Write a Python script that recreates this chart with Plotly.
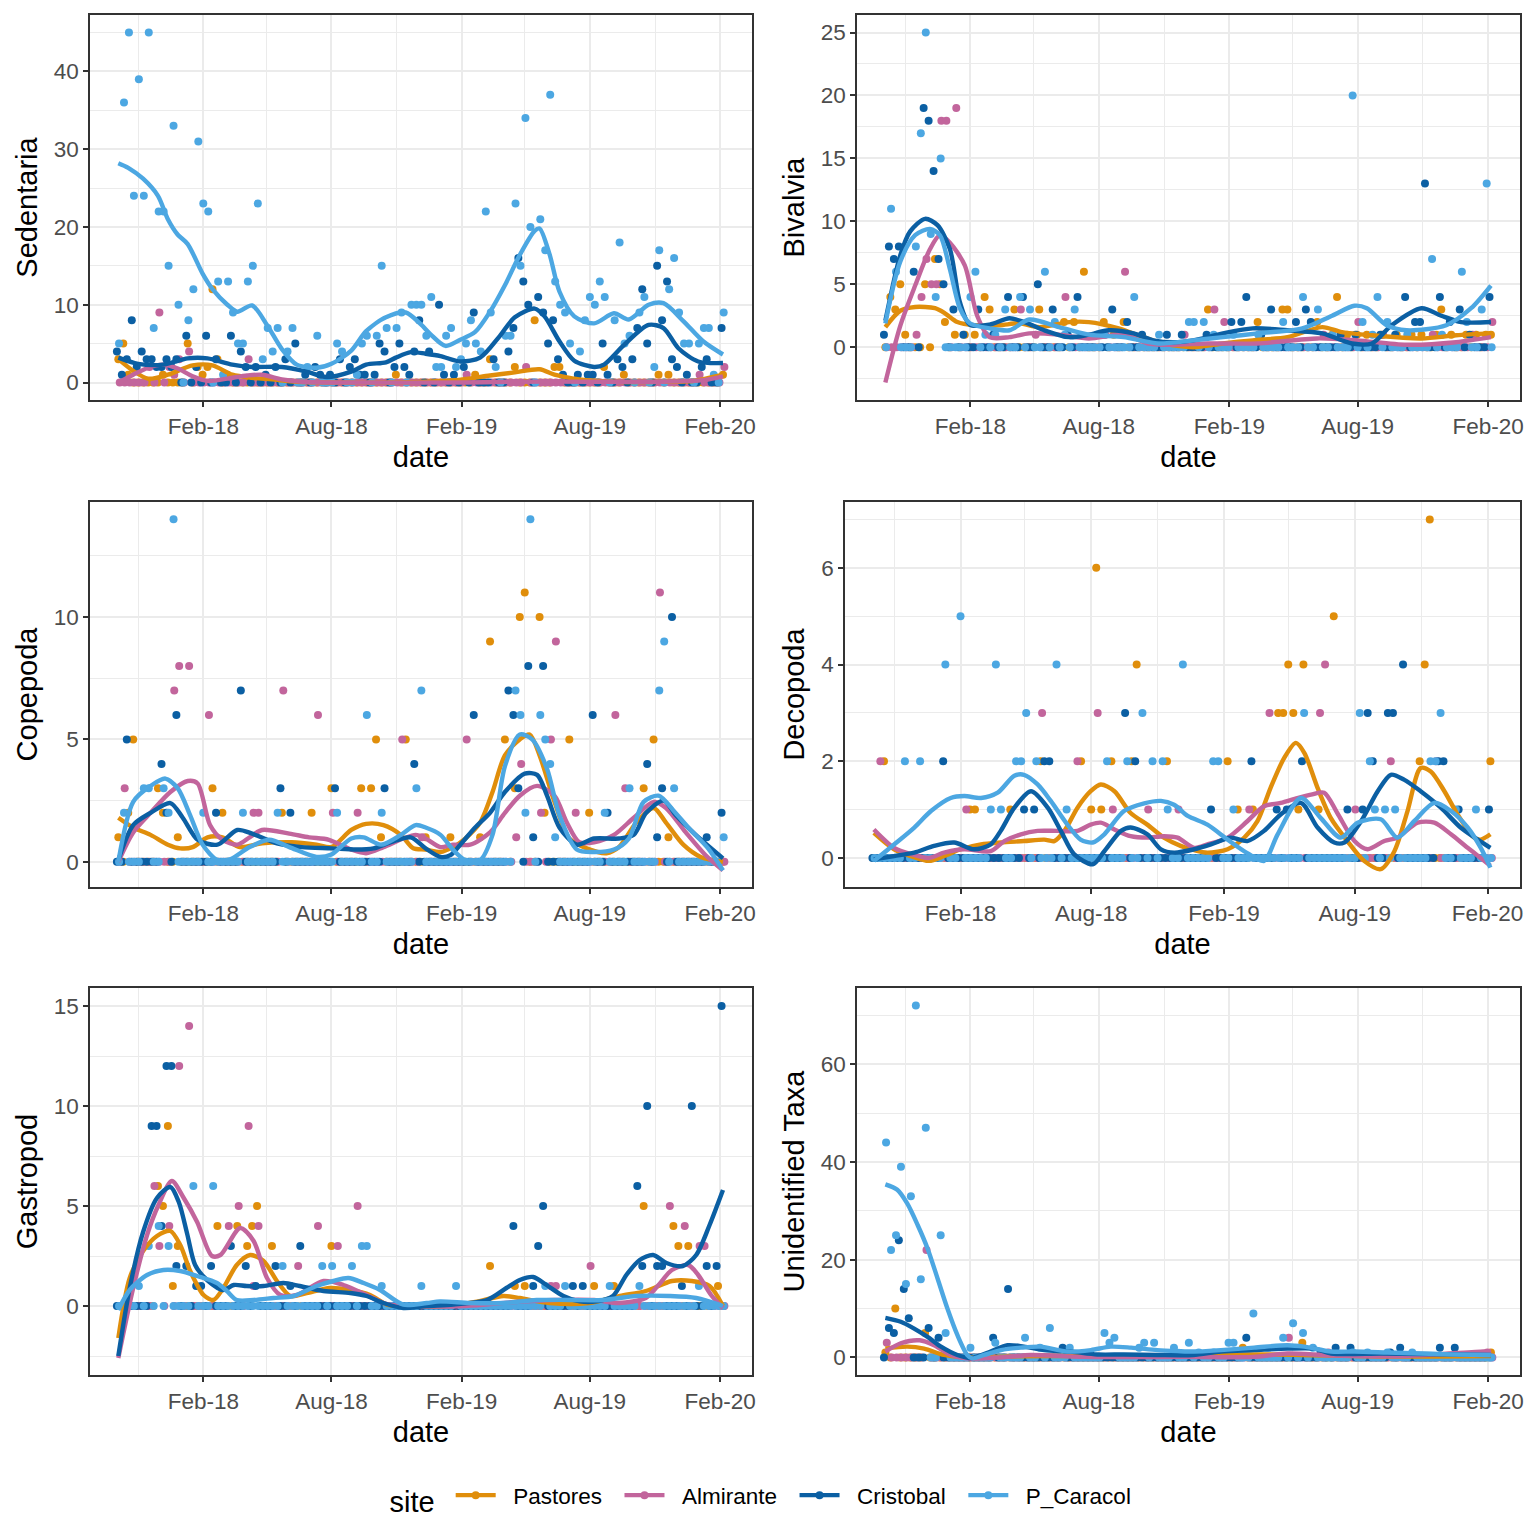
import pandas as pd
import plotly.graph_objects as go

# ---------------- sampling calendar (weekly) ----------------
DATES = [
    "2017-10-04", "2017-10-11", "2017-10-18", "2017-10-25", "2017-11-01", "2017-11-08", "2017-11-15",
    "2017-11-22", "2017-11-29", "2017-12-06", "2017-12-13", "2017-12-20", "2017-12-27",
    "2018-01-03", "2018-01-10", "2018-01-17", "2018-01-24", "2018-01-31",
    "2018-02-07", "2018-02-14", "2018-02-21", "2018-02-28",
    "2018-03-07", "2018-03-14", "2018-03-21", "2018-03-28",
    "2018-04-04", "2018-04-11", "2018-04-18", "2018-04-25",
    "2018-05-02", "2018-05-09", "2018-05-16", "2018-05-23", "2018-05-30",
    "2018-06-06", "2018-06-13", "2018-06-20", "2018-06-27",
    "2018-07-04", "2018-07-11", "2018-07-18", "2018-07-25",
    "2018-08-01", "2018-08-08", "2018-08-15", "2018-08-22", "2018-08-29",
    "2018-09-05", "2018-09-12", "2018-09-19", "2018-09-26",
    "2018-10-03", "2018-10-10", "2018-10-17", "2018-10-24", "2018-10-31",
    "2018-11-07", "2018-11-14", "2018-11-21", "2018-11-28",
    "2018-12-05", "2018-12-12", "2018-12-19", "2018-12-26",
    "2019-01-02", "2019-01-09", "2019-01-16", "2019-01-23", "2019-01-30",
    "2019-02-06", "2019-02-13", "2019-02-20", "2019-02-27",
    "2019-03-06", "2019-03-13", "2019-03-20", "2019-03-27",
    "2019-04-03", "2019-04-10", "2019-04-17", "2019-04-24",
    "2019-05-01", "2019-05-08", "2019-05-15", "2019-05-22", "2019-05-29",
    "2019-06-05", "2019-06-12", "2019-06-19", "2019-06-26",
    "2019-07-03", "2019-07-10", "2019-07-17", "2019-07-24", "2019-07-31",
    "2019-08-07", "2019-08-14", "2019-08-21", "2019-08-28",
    "2019-09-04", "2019-09-11", "2019-09-18", "2019-09-25",
    "2019-10-02", "2019-10-09", "2019-10-16", "2019-10-23", "2019-10-30",
    "2019-11-06", "2019-11-13", "2019-11-20", "2019-11-27",
    "2019-12-04", "2019-12-11", "2019-12-18", "2019-12-25",
    "2020-01-01", "2020-01-08", "2020-01-15", "2020-01-22", "2020-01-29",
    "2020-02-05",
]

SITES = ["Pastores", "Almirante", "Cristobal", "P_Caracol"]
SITE_SAMPLING_LAG_DAYS = {"Pastores": 0, "Almirante": 2, "Cristobal": -2, "P_Caracol": 1}

# ---------------- counts: {week index into DATES: count}, unlisted weeks = 0 ----------------
SED_PASTORES = {0: 3, 1: 5, 2: 1, 9: 1, 14: 5, 16: 2, 17: 1, 18: 2, 19: 12, 20: 3, 22: 1, 56: 1, 72: 1,
                75: 3, 80: 2, 84: 8, 88: 2, 89: 2, 98: 2, 102: 1, 109: 1, 111: 1, 122: 1}
SED_ALMIRANTE = {6: 2, 8: 9, 10: 2, 11: 1, 12: 3, 14: 4, 26: 3, 70: 1, 82: 2, 117: 1, 122: 2}
SED_CRISTOBAL = {0: 4, 1: 1, 2: 3, 3: 8, 4: 2, 5: 4, 6: 3, 7: 3, 8: 2, 9: 2, 10: 3, 11: 2, 12: 3, 14: 6,
                 16: 2, 18: 6, 20: 3, 23: 6, 25: 4, 26: 2, 28: 2, 30: 1, 32: 2, 34: 3, 36: 5, 38: 1,
                 40: 2, 41: 1, 43: 1, 45: 3, 47: 2, 48: 3, 49: 1, 50: 1, 52: 1, 53: 5, 54: 4, 56: 2,
                 57: 5, 58: 2, 59: 1, 60: 4, 61: 8, 63: 4, 65: 10, 66: 1, 68: 1, 70: 2, 72: 9, 76: 3,
                 79: 4, 80: 7, 81: 16, 82: 13, 83: 10, 85: 11, 86: 9, 87: 5, 88: 8, 89: 3, 90: 1,
                 93: 1, 95: 1, 96: 1, 98: 5, 99: 1, 101: 3, 102: 2, 104: 3, 105: 7, 106: 12, 107: 5,
                 109: 15, 110: 8, 111: 13, 112: 3, 113: 2, 115: 1, 118: 2, 119: 3, 122: 7}
SED_P_CARACOL = {0: 5, 1: 36, 2: 45, 3: 24, 4: 39, 5: 24, 6: 45, 7: 7, 8: 22, 9: 22, 10: 15, 11: 33,
                 12: 10, 14: 8, 15: 12, 16: 31, 17: 23, 18: 22, 20: 13, 21: 1, 22: 13, 23: 9, 24: 5,
                 25: 5, 26: 13, 27: 15, 28: 23, 29: 3, 30: 7, 31: 4, 32: 7, 34: 4, 35: 7, 38: 2,
                 40: 6, 44: 5, 45: 4, 48: 1, 49: 5, 50: 6, 52: 6, 53: 15, 54: 7, 56: 7, 57: 9,
                 59: 10, 60: 10, 61: 10, 62: 6, 63: 11, 64: 2, 65: 2, 66: 6, 67: 7, 68: 2, 69: 3,
                 70: 5, 71: 8, 72: 5, 73: 4, 74: 22, 75: 9, 76: 2, 78: 6, 79: 6, 80: 23, 81: 15,
                 82: 34, 83: 20, 85: 21, 86: 17, 87: 37, 88: 13, 89: 10, 90: 9, 91: 5, 93: 4, 94: 8,
                 95: 11, 96: 10, 97: 13, 98: 11, 100: 8, 101: 18, 102: 5, 103: 6, 105: 9, 106: 11,
                 108: 2, 109: 17, 111: 12, 112: 16, 113: 9, 114: 5, 115: 5, 117: 5, 118: 7, 119: 7,
                 120: 1, 122: 9}

BIV_PASTORES = {1: 4, 2: 3, 3: 5, 4: 1, 8: 5, 10: 7, 11: 5, 12: 2, 14: 1, 16: 1, 18: 1, 20: 4, 21: 3,
                26: 3, 31: 3, 36: 2, 38: 2, 40: 6, 44: 2, 46: 1, 48: 2, 65: 3, 75: 2, 80: 3, 81: 3,
                87: 2, 90: 1, 91: 4, 93: 1, 95: 1, 97: 1, 100: 1, 103: 1, 106: 1, 108: 1, 111: 1,
                112: 3, 114: 1, 117: 1, 119: 1, 121: 1, 122: 1}
BIV_ALMIRANTE = {6: 1, 7: 4, 8: 7, 9: 5, 10: 5, 11: 18, 12: 18, 14: 19, 27: 3, 30: 1, 36: 4, 44: 1,
                 48: 6, 60: 1, 66: 3, 68: 2, 75: 1, 88: 1, 95: 2, 100: 1, 110: 1, 118: 1, 122: 2}
BIV_CRISTOBAL = {0: 1, 1: 8, 2: 7, 3: 8, 6: 6, 8: 19, 9: 18, 10: 14, 11: 7, 12: 5, 14: 3, 16: 1, 19: 3,
                 22: 1, 25: 4, 28: 4, 31: 5, 34: 3, 37: 1, 39: 4, 43: 1, 46: 3, 49: 2, 52: 1, 57: 1,
                 60: 1, 65: 1, 70: 2, 72: 2, 73: 4, 76: 1, 78: 3, 83: 2, 85: 3, 86: 2, 92: 1, 95: 1,
                 100: 1, 103: 1, 105: 4, 107: 2, 108: 2, 109: 13, 112: 4, 114: 2, 116: 3, 118: 1,
                 122: 4}
BIV_P_CARACOL = {1: 11, 2: 6, 6: 8, 7: 17, 8: 25, 9: 9, 10: 4, 11: 15, 17: 4, 18: 6, 20: 1, 22: 1,
                 24: 3, 27: 4, 29: 3, 32: 6, 34: 2, 36: 1, 38: 3, 44: 1, 50: 4, 55: 1, 61: 2, 62: 2,
                 64: 2, 66: 1, 70: 1, 75: 1, 80: 2, 84: 4, 87: 3, 90: 1, 94: 20, 96: 2, 98: 1, 99: 4,
                 101: 2, 105: 1, 110: 7, 112: 1, 116: 6, 117: 2, 120: 3, 121: 13}

COP_PASTORES = {0: 1, 2: 2, 3: 5, 8: 3, 9: 2, 12: 1, 19: 3, 21: 2, 33: 2, 39: 2, 43: 3, 49: 3, 51: 3,
                52: 5, 53: 1, 58: 5, 62: 1, 67: 1, 73: 1, 75: 9, 78: 5, 80: 3, 81: 10, 82: 11, 85: 10,
                86: 2, 91: 5, 95: 2, 106: 3, 108: 5, 111: 1}
COP_ALMIRANTE = {1: 3, 11: 7, 12: 8, 14: 8, 18: 6, 27: 2, 28: 2, 33: 7, 40: 6, 43: 2, 48: 2, 57: 5,
                 61: 1, 70: 5, 80: 1, 81: 4, 85: 2, 87: 5, 88: 9, 92: 2, 100: 6, 102: 3, 109: 11}
COP_CRISTOBAL = {2: 5, 9: 4, 10: 2, 12: 6, 20: 2, 25: 7, 33: 3, 35: 2, 44: 3, 54: 3, 60: 4, 72: 6,
                 79: 7, 80: 6, 81: 3, 83: 8, 84: 1, 86: 8, 96: 6, 99: 2, 107: 4, 109: 1, 110: 3,
                 112: 10, 119: 1, 122: 2}
COP_P_CARACOL = {1: 2, 5: 3, 6: 3, 9: 3, 10: 2, 11: 14, 17: 2, 25: 2, 32: 2, 44: 2, 50: 6, 53: 2,
                 60: 3, 61: 7, 80: 7, 81: 6, 82: 2, 83: 14, 85: 6, 86: 5, 87: 4, 88: 1, 98: 2, 103: 3,
                 109: 7, 110: 9, 112: 3, 122: 1}

DEC_PASTORES = {2: 2, 19: 1, 20: 1, 27: 1, 33: 2, 41: 2, 43: 1, 44: 6, 45: 1, 47: 2, 51: 2, 52: 4,
                58: 2, 70: 2, 72: 1, 75: 1, 80: 3, 81: 3, 82: 4, 83: 3, 84: 1, 85: 4, 88: 1, 91: 5,
                108: 2, 109: 4, 110: 7, 122: 2}
DEC_ALMIRANTE = {1: 2, 18: 1, 33: 3, 40: 2, 44: 3, 47: 1, 54: 1, 60: 1, 74: 1, 78: 3, 88: 3, 89: 4,
                 95: 1, 102: 2, 111: 2}
DEC_CRISTOBAL = {14: 2, 30: 1, 32: 1, 34: 2, 35: 2, 50: 3, 52: 2, 67: 1, 75: 2, 80: 1, 82: 1, 85: 2,
                 94: 1, 97: 1, 98: 3, 99: 2, 102: 3, 103: 3, 105: 4, 112: 2, 113: 2, 116: 1, 122: 1}
DEC_P_CARACOL = {6: 2, 9: 2, 14: 4, 17: 5, 23: 1, 24: 4, 25: 1, 28: 2, 29: 2, 30: 3, 32: 2, 36: 4,
                 38: 1, 46: 2, 50: 2, 53: 3, 55: 2, 57: 2, 58: 1, 61: 4, 67: 2, 68: 2, 71: 1, 85: 3,
                 96: 3, 98: 2, 99: 1, 101: 1, 103: 1, 110: 2, 111: 2, 112: 3, 115: 1, 119: 1}

GAS_PASTORES = {8: 6, 9: 5, 10: 9, 11: 1, 12: 3, 20: 4, 24: 4, 26: 3, 27: 4, 28: 5, 31: 3, 43: 3,
                75: 2, 80: 1, 82: 1, 96: 1, 100: 1, 106: 5, 112: 4, 113: 3, 115: 3, 121: 1}
GAS_ALMIRANTE = {7: 6, 8: 3, 10: 4, 12: 12, 14: 14, 22: 4, 24: 5, 26: 9, 27: 1, 28: 4, 36: 2, 40: 4,
                 44: 3, 48: 5, 87: 1, 88: 1, 95: 2, 111: 5, 114: 4, 117: 3, 118: 3}
GAS_CRISTOBAL = {7: 9, 8: 9, 9: 4, 10: 12, 11: 12, 12: 2, 14: 2, 16: 1, 17: 1, 19: 2, 23: 3, 26: 2,
                 28: 1, 32: 2, 35: 1, 37: 3, 80: 4, 84: 1, 85: 3, 86: 5, 92: 1, 94: 1, 105: 6,
                 106: 2, 107: 10, 109: 2, 110: 2, 114: 1, 116: 10, 119: 2, 121: 2, 122: 15}
GAS_P_CARACOL = {4: 1, 6: 3, 8: 4, 10: 3, 15: 6, 19: 6, 33: 2, 41: 2, 43: 2, 47: 2, 49: 3, 50: 3,
                 53: 1, 61: 1, 68: 1, 86: 1, 90: 1, 99: 1, 105: 1, 117: 1}

UNI_PASTORES = {0: 1, 2: 10, 8: 5, 72: 2, 84: 3, 122: 1}
UNI_ALMIRANTE = {0: 3, 8: 22, 81: 4, 89: 1, 121: 1}
UNI_CRISTOBAL = {1: 6, 2: 5, 3: 24, 4: 14, 5: 8, 9: 6, 11: 4, 22: 4, 25: 14, 36: 2, 73: 4, 88: 1,
                 91: 2, 94: 2, 102: 1, 104: 2, 112: 2, 115: 2}
UNI_P_CARACOL = {0: 44, 1: 22, 2: 25, 3: 39, 4: 15, 5: 33, 6: 72, 7: 16, 8: 47, 11: 25, 12: 5, 17: 2,
                 22: 3, 28: 4, 31: 2, 33: 6, 37: 2, 44: 5, 45: 3, 46: 4, 51: 2, 52: 3, 54: 3, 58: 2,
                 61: 3, 63: 1, 66: 1, 69: 3, 70: 3, 74: 9, 80: 4, 82: 7, 84: 5, 86: 2, 94: 1, 97: 1,
                 101: 1, 106: 1}

# ---------------- smoothed trends: (weeks since first sampling date, fitted value) ----------------
SED_FIT = {
    "Pastores": [(0, 3.0), (3, 1.5), (6, 0.5), (10, 1.0), (15, 2.2), (19, 2.2), (23, 1.0), (27, 0.6),
                 (31, 0.4), (36, 0.1), (45, 0), (55, 0), (62, 0.1), (68, 0.3), (75, 0.9), (80, 1.3),
                 (85, 1.7), (88, 1.0), (93, 0.4), (100, 0.1), (110, 0.1), (116, 0.2), (122, 1.0)],
    "Almirante": [(0, 0), (3, 1.0), (6, 1.9), (9, 2.3), (12, 1.8), (15, 0.8), (18, 0.2), (22, 0.5),
                  (26, 0.9), (29, 1.0), (33, 0.4), (37, 0.1), (45, 0), (70, 0), (80, 0.1), (95, 0.1),
                  (110, 0.1), (118, 0.3), (122, 0.8)],
    "Cristobal": [(0, 3.2), (4, 2.4), (9, 2.3), (14, 3.1), (18, 3.1), (23, 2.3), (27, 2.0), (33, 2.0),
                  (38, 1.4), (42, 0.7), (47, 1.4), (50, 2.3), (54, 2.6), (56, 3.2), (59, 3.9),
                  (62, 3.7), (65, 3.4), (69, 2.7), (73, 3.2), (77, 6.0), (80, 8.4), (84, 9.5),
                  (86, 8.5), (89, 5.3), (92, 2.8), (96, 2.0), (98, 2.3), (102, 4.8), (107, 7.4),
                  (110, 7.0), (113, 4.4), (117, 2.7), (122, 2.5)],
    "P_Caracol": [(0, 28.2), (2, 27.6), (5, 26.2), (8, 24.0), (10, 21.0), (12, 19.0), (14, 17.8),
                  (17, 14.0), (19, 12.0), (22, 10.0), (24, 9.1), (27, 9.9), (30, 7.4), (33, 4.3),
                  (36, 2.3), (40, 1.9), (43, 2.4), (47, 4.1), (50, 6.6), (54, 8.4), (58, 9.0),
                  (61, 7.5), (63, 6.2), (66, 4.7), (69, 5.5), (72, 6.5), (75, 9.1), (78, 12.5),
                  (81, 16.4), (84, 19.5), (85, 19.8), (87, 16.5), (89, 11.7), (92, 8.5), (96, 7.6),
                  (100, 8.9), (103, 8.1), (107, 10.0), (110, 10.2), (114, 7.9), (118, 5.3), (122, 3.6)],
}
BIV_FIT = {
    "Pastores": [(0, 1.6), (3, 2.9), (6, 3.2), (10, 3.1), (12, 2.7), (14.5, 2.0), (18, 1.75), (23, 1.75),
                 (27, 1.9), (31, 1.6), (37, 2.0), (41, 2.0), (47, 1.5), (52, 0.8), (56, 0.3), (62, 0.0),
                 (68, 0.3), (74, 0.55), (81, 0.8), (88, 1.6), (92, 1.2), (98, 0.95), (108, 0.7),
                 (115, 0.95), (122, 1.1)],
    "Almirante": [(0, -2.8), (3, 1.7), (6, 4.9), (9, 7.8), (11, 8.9), (13, 8.3), (16, 6.5), (18.5, 2.5),
                  (21, 0.8), (25, 0.8), (29, 1.1), (35, 1.0), (41, 0.7), (48, 1.0), (53, 0.3), (58, 0.2),
                  (65, 0.3), (75, 0.3), (87, 0.7), (95, 0.55), (105, 0.2), (115, 0.4), (122, 0.8)],
    "Cristobal": [(0, 2.1), (3, 7.3), (5, 9.2), (8, 10.2), (10.5, 9.7), (13, 7.8), (15, 3.6), (17, 1.8),
                  (21, 1.8), (25, 2.3), (28, 2.0), (32, 1.35), (37, 0.8), (41, 1.0), (45, 1.35),
                  (50, 1.1), (54, 0.55), (58, 0.4), (62, 0.55), (68, 1.1), (74, 1.5), (81, 1.35),
                  (88, 1.1), (94, 0.3), (98, 0.3), (102, 1.75), (108, 3.1), (112, 2.5), (116, 2.0),
                  (122, 2.0)],
    "P_Caracol": [(0, 1.9), (3, 6.8), (6, 8.9), (9, 9.4), (11, 8.9), (13, 6.2), (15, 3.1), (17, 1.9),
                  (21, 1.5), (25, 1.35), (29, 2.2), (35, 1.6), (41, 1.0), (48, 0.8), (55, 0.3),
                  (62, 0.55), (68, 0.8), (75, 1.1), (84, 1.5), (90, 2.5), (94.5, 3.3), (97, 3.1),
                  (101, 1.75), (105, 1.35), (113, 1.75), (118, 3.1), (122, 4.9)],
}
COP_FIT = {
    "Pastores": [(0, 1.8), (3, 1.4), (6.5, 1.1), (10, 0.7), (12.5, 0.55), (15, 0.6), (18, 1.0), (21, 1.0),
                 (24.5, 0.6), (29, 0.75), (35, 0.8), (40, 0.7), (43, 0.6), (47, 1.3), (50, 1.55),
                 (53.5, 1.5), (57, 1.1), (59.5, 0.55), (62, 0.5), (65, 0.4), (67.5, 0.6), (70, 0.95),
                 (73, 1.6), (75.5, 2.85), (78, 4.35), (81, 5.0), (83, 5.2), (85, 4.35), (88, 2.45),
                 (91, 0.95), (94.5, 0.55), (98.5, 0.35), (101, 0.6), (104.5, 1.6), (108, 2.2),
                 (110.5, 1.6), (114, 0.7), (117.5, 0.2), (122, 0.0)],
    "Almirante": [(0, 0), (3, 1.2), (6.5, 2.0), (10.5, 2.85), (14, 3.3), (16, 3.2), (18.5, 1.5), (21, 0.9),
                  (24, 0.7), (26.5, 1.0), (29, 1.3), (34.5, 1.15), (38.5, 1.0), (42.5, 0.9), (47, 0.5),
                  (50, 0.35), (53.5, 0.6), (57.5, 0.95), (60, 1.1), (62, 0.95), (65, 0.6), (67.5, 0.7),
                  (71, 0.7), (75, 1.2), (78, 2.0), (81, 2.7), (84.5, 3.1), (88, 2.7), (90.5, 1.6),
                  (93, 0.8), (96, 0.8), (100, 1.1), (104, 1.8), (108, 2.45), (110.5, 2.2),
                  (114.5, 1.2), (118.5, 0.27), (122, -0.35)],
    "Cristobal": [(0, 0.07), (3, 1.5), (6.5, 2.0), (10.5, 2.4), (13, 1.8), (16, 0.9), (20, 0.7), (24, 1.3),
                  (27, 1.15), (32, 0.75), (37, 0.6), (43, 0.55), (48, 0.5), (51.5, 0.55), (55, 0.8),
                  (59, 1.0), (62, 0.55), (65, 0.2), (67, 0.27), (69, 0.7), (72, 1.4), (75, 2.0),
                  (78, 2.85), (82, 3.6), (84.5, 3.55), (86.5, 2.7), (89, 1.4), (92.5, 0.7), (96, 0.95),
                  (101, 0.95), (104, 1.1), (106.5, 2.0), (110, 2.5), (112.5, 1.9), (116.5, 1.1),
                  (122, 0.14)],
    "P_Caracol": [(0, 0), (3, 2.45), (6.5, 3.1), (9.5, 3.4), (12, 3.0), (14.5, 1.9), (17, 0.7), (20, 0.07),
                  (22.5, 0.1), (26.5, 0.6), (30.5, 0.9), (34.5, 0.6), (40, 0.2), (43, 0.3), (47, 0.95),
                  (49.5, 1.0), (53, 0.7), (57, 1.1), (60, 1.5), (62, 1.4), (65, 1.1), (67.5, 0.5),
                  (70, 0.07), (73, 0.07), (75.5, 1.1), (78, 3.9), (81, 5.2), (83.5, 5.0), (86.5, 3.8),
                  (89, 1.9), (92.5, 0.5), (96, 0.4), (100, 0.5), (103, 0.95), (106, 2.45), (109, 2.7),
                  (112, 2.1), (115, 1.4), (119, 0.55), (122, -0.35)],
}
DEC_FIT = {
    "Pastores": [(0, 0.52), (4, 0.18), (7.3, 0.04), (10.9, -0.06), (13.9, 0.04), (17.2, 0.18), (21.2, 0.28),
                 (25.1, 0.32), (29.7, 0.35), (33.7, 0.38), (35.7, 0.35), (37.7, 0.56), (40.3, 1.04),
                 (42.9, 1.38), (44.9, 1.52), (47.6, 1.38), (50.8, 0.93), (54.1, 0.69), (57.4, 0.42),
                 (60.7, 0.25), (63.4, 0.16), (66, 0.11), (70, 0.18), (73.3, 0.42), (75.9, 0.76),
                 (78.5, 1.45), (81.2, 2.07), (83.5, 2.38), (85.2, 2.17), (87.8, 1.45), (90.4, 0.83),
                 (93.7, 0.35), (97, -0.06), (100.3, -0.23), (103, 0.14), (105.6, 0.97), (108.2, 1.86),
                 (110.2, 1.79), (112.9, 1.38), (115.5, 0.9), (118.8, 0.42), (120.1, 0.38), (122, 0.49)],
    "Almirante": [(0, 0.59), (4, 0.21), (7.3, 0.08), (10.9, 0.0), (13.9, 0.11), (17.9, 0.18), (23.1, 0.14),
                  (25.8, 0.35), (29.1, 0.49), (32.4, 0.56), (36.3, 0.56), (40.3, 0.56), (42.9, 0.69),
                  (44.9, 0.73), (47.6, 0.59), (50.8, 0.45), (54.1, 0.42), (57.4, 0.45), (60.1, 0.42),
                  (63.4, 0.21), (66, 0.28), (70, 0.42), (73.9, 0.76), (77.2, 1.07), (80.5, 1.14),
                  (83.8, 1.24), (86.5, 1.31), (89.1, 1.35), (91.7, 0.93), (95.1, 0.35), (97.7, 0.18),
                  (101, 0.35), (103.6, 0.42), (107.6, 0.73), (110.9, 0.73), (114.2, 0.49),
                  (117.5, 0.21), (122, -0.16)],
    "Cristobal": [(0, -0.03), (4, 0.04), (8, 0.11), (11.9, 0.25), (15.9, 0.32), (19.8, 0.18), (23.1, 0.28),
                  (25.1, 0.56), (27.8, 1.04), (31.1, 1.38), (34.4, 1.04), (37, 0.56), (39.6, 0.08),
                  (43.3, -0.13), (45.6, 0.14), (48.9, 0.56), (50.8, 0.63), (54.1, 0.49), (56.8, 0.18),
                  (59.4, 0.11), (63.4, 0.18), (66.7, 0.28), (70.6, 0.42), (73.9, 0.35), (77.2, 0.56),
                  (80.5, 0.9), (84.5, 1.14), (87.8, 0.63), (91.1, 0.32), (93.1, 0.32), (96.4, 0.76),
                  (99.7, 1.38), (102.3, 1.72), (104.9, 1.62), (108.2, 1.38), (112.2, 1.04),
                  (116.1, 0.63), (119.5, 0.38), (122, 0.21)],
    "P_Caracol": [(0, -0.06), (4, 0.28), (8, 0.63), (11.3, 0.97), (15.2, 1.24), (17.9, 1.28), (21.2, 1.24),
                  (24.5, 1.35), (27.8, 1.7), (29.7, 1.72), (32.4, 1.52), (35, 1.18), (38.3, 0.69),
                  (40.9, 0.38), (43.3, 0.32), (45.6, 0.49), (49.5, 0.97), (53.5, 1.13), (56.8, 1.18),
                  (59.4, 1.1), (62.1, 0.87), (66, 0.69), (70, 0.38), (73.9, 0.1), (77.2, -0.06),
                  (79.9, 0.49), (84.5, 1.24), (88.4, 0.83), (92.4, 0.42), (95.7, 0.73), (100.3, 0.8),
                  (103.6, 0.42), (106.9, 0.76), (110.9, 1.14), (114.2, 0.97), (117.5, 0.63),
                  (120.1, 0.21), (122, -0.2)],
}
GAS_FIT = {
    "Pastores": [(0, -1.6), (2.3, 1.4), (5, 2.75), (7.8, 3.5), (10.5, 3.75), (12.5, 3.05), (14.5, 1.75),
                 (17.2, 0.55), (19.2, 0.3), (21.2, 0.9), (23.9, 2.05), (26.6, 2.55), (29.3, 2.25),
                 (32, 1.25), (34.7, 0.5), (38, 0.65), (42.7, 0.9), (46.8, 0.8), (50.8, 0.55),
                 (54.2, 0.07), (57.5, 0), (66, 0.0), (72, 0.2), (77.7, 0.5), (81, 0.4), (87, 0.15),
                 (95, 0.15), (101.2, 0.5), (106.4, 0.75), (111.7, 1.25), (115.7, 1.25), (119.3, 1.0),
                 (122, 0)],
    "Almirante": [(0, -2.6), (3, 0.9), (5.8, 3.55), (8.1, 5.05), (10.8, 6.25), (13.2, 5.4), (15.9, 4.2),
                  (18.9, 2.5), (20.6, 2.55), (24.6, 3.9), (27.3, 3.25), (30, 1.4), (32.7, 0.55),
                  (36, 0.55), (41.4, 1.25), (45.4, 1.05), (50.1, 0.55), (53.5, 0.15), (57.5, 0),
                  (70, 0), (80, 0.2), (88, 0.3), (96, 0.3), (101, 0.15), (106.4, 0.4), (109, 1.05),
                  (111.7, 1.8), (115, 2.05), (117, 1.55), (119.6, 0.55), (122, -0.1)],
    "Cristobal": [(0, -2.5), (2.3, 0.9), (5, 3.7), (7.8, 5.4), (10.5, 5.95), (12.2, 5.2), (13.9, 3.6),
                  (15.5, 2.05), (17.9, 1.3), (21.2, 0.8), (23.3, 1.05), (25.9, 1.0), (29.3, 1.0),
                  (33.3, 1.15), (36.6, 1.0), (41.4, 0.75), (46.8, 0.65), (50.1, 0.5), (53.5, 0.15),
                  (57.5, -0.1), (62.2, 0), (67.6, 0.07), (74.4, 0.3), (78.3, 0.9), (81, 1.3),
                  (83.7, 1.45), (86.4, 1.05), (89.8, 0.5), (93.1, 0.23), (96.5, 0.23), (99.8, 0.5),
                  (102.5, 1.55), (105.2, 2.3), (107.9, 2.55), (110.6, 2.15), (113.9, 2.0),
                  (116.6, 2.55), (119.3, 4.05), (122, 5.8)],
    "P_Caracol": [(0, -0.2), (2.3, 0.8), (5.8, 1.55), (9.1, 1.8), (12.5, 1.75), (15.9, 1.5), (19.9, 1.15),
                  (21.9, 0.75), (23.9, 0.3), (27.3, 0.3), (31.3, 0.4), (35.4, 0.5), (40, 1.0),
                  (43.4, 1.25), (46.4, 1.4), (49.5, 1.15), (52.8, 0.8), (57.5, 0.07), (62.2, 0.15),
                  (64.9, 0.23), (71, 0.15), (77.7, 0.15), (84.4, 0.3), (91.1, 0.3), (97.8, 0.3),
                  (104.5, 0.5), (111.2, 0.5), (116.6, 0.4), (122, 0)],
}
UNI_FIT = {
    "Pastores": [(0, 1.8), (4.4, 2.2), (7.8, 1.8), (11.8, 0.5), (15.9, 0.0), (25, 0.2), (40, 0.3),
                 (60, 0.2), (73, 0.6), (84, 0.5), (100, 0.2), (122, 0.3)],
    "Almirante": [(0, 1.2), (3.1, 2.9), (6.9, 3.5), (9.8, 2.5), (13.2, 0.5), (16.5, -0.2), (24.6, 0.1),
                  (29.3, 0.5), (40, 0.1), (60, 0.1), (74, 0.1), (81, 0.8), (90, 0.4), (105, 0.3),
                  (120.5, 1.2), (122, 1.2)],
    "Cristobal": [(0, 8.1), (3.1, 7.3), (5.8, 5.9), (8.5, 4.2), (11.2, 2.2), (14.5, 0.5), (17.2, -0.1),
                  (21.2, 1.2), (24.6, 2.5), (27.9, 2.2), (32, 1.5), (37.3, 1.2), (42.7, 0.6), (48, 0.6),
                  (54.8, 0.5), (62, 0.5), (67.6, 1.2), (74.3, 1.5), (81, 1.8), (86.4, 1.8),
                  (89.8, 0.8), (100, 0.8), (108, 0.7), (115, 0.6), (122, 0.5)],
    "P_Caracol": [(0, 35.4), (2.4, 34.3), (4.4, 31.5), (6.5, 27.1), (8.5, 22.3), (10.5, 16.2), (12.5, 10.0),
                  (14.5, 4.6), (16.5, 0.5), (17.5, -0.2), (19.9, 0.5), (23.3, 1.5), (27.3, 2.0),
                  (31.3, 2.2), (36.7, 1.2), (41.4, 1.5), (45.4, 2.2), (49.5, 2.0), (54.8, 1.5),
                  (58.9, 1.3), (62.2, 1.2), (67.6, 1.5), (74.3, 2.0), (81, 2.5), (84.4, 2.2),
                  (89.8, 1.2), (94.5, 1.2), (101.2, 1.0), (107.9, 0.8), (114.6, 0.6), (122, 0.5)],
}

PANELS = [
    dict(title="Sedentaria", counts=[SED_PASTORES, SED_ALMIRANTE, SED_CRISTOBAL, SED_P_CARACOL],
         fit=SED_FIT, yticks=[0, 10, 20, 30, 40]),
    dict(title="Bivalvia", counts=[BIV_PASTORES, BIV_ALMIRANTE, BIV_CRISTOBAL, BIV_P_CARACOL],
         fit=BIV_FIT, yticks=[0, 5, 10, 15, 20, 25]),
    dict(title="Copepoda", counts=[COP_PASTORES, COP_ALMIRANTE, COP_CRISTOBAL, COP_P_CARACOL],
         fit=COP_FIT, yticks=[0, 5, 10]),
    dict(title="Decopoda", counts=[DEC_PASTORES, DEC_ALMIRANTE, DEC_CRISTOBAL, DEC_P_CARACOL],
         fit=DEC_FIT, yticks=[0, 2, 4, 6]),
    dict(title="Gastropod", counts=[GAS_PASTORES, GAS_ALMIRANTE, GAS_CRISTOBAL, GAS_P_CARACOL],
         fit=GAS_FIT, yticks=[0, 5, 10, 15]),
    dict(title="Unidentified Taxa", counts=[UNI_PASTORES, UNI_ALMIRANTE, UNI_CRISTOBAL, UNI_P_CARACOL],
         fit=UNI_FIT, yticks=[0, 20, 40, 60]),
]

# ---------------- styling / layout ----------------
COLORS = {"Pastores": "#E08E0B", "Almirante": "#C2659C", "Cristobal": "#0B5FA3", "P_Caracol": "#4CA7E2"}
W = H = 1536
# plot-area pixel boxes (left, right, top, bottom)
BOXES = [(90, 752, 15, 400), (857, 1520, 15, 400),
         (90, 752, 502, 887), (845, 1520, 502, 887),
         (90, 752, 988, 1375), (857, 1520, 988, 1375)]
YRANGES = [(-2.25, 47.25), (-4.19, 26.39), (-1.03, 14.7), (-0.6, 7.36), (-3.45, 15.9), (-3.6, 75.6)]
XRANGE = ["2017-08-25", "2020-03-17"]
FONT = "Liberation Sans, Arial, Helvetica, sans-serif"
TICK_SIZE = 22.5
TITLE_SIZE = 29
NBSP = "\u00a0"

t0 = pd.Timestamp(DATES[0])
dates = pd.to_datetime(DATES)

fig = go.Figure()

# points
for i, p in enumerate(PANELS):
    ax = "" if i == 0 else str(i + 1)
    for site, counts in zip(SITES, p["counts"]):
        xs = dates + pd.Timedelta(days=SITE_SAMPLING_LAG_DAYS[site])
        ys = [counts.get(k, 0) for k in range(len(DATES))]
        fig.add_trace(go.Scatter(x=xs, y=ys, mode="markers", xaxis="x" + ax, yaxis="y" + ax,
                                 marker=dict(size=8, color=COLORS[site], line=dict(width=0)),
                                 showlegend=False, hoverinfo="skip"))
# smooth lines
for i, p in enumerate(PANELS):
    ax = "" if i == 0 else str(i + 1)
    for site in SITES:
        knots = p["fit"][site]
        xs = [t0 + pd.Timedelta(days=7 * w) for w, _ in knots]
        ys = [v for _, v in knots]
        fig.add_trace(go.Scatter(x=xs, y=ys, mode="lines", xaxis="x" + ax, yaxis="y" + ax,
                                 line=dict(color=COLORS[site], width=4.4, shape="spline", smoothing=0.8),
                                 showlegend=False, hoverinfo="skip"))
# legend entries
for site in SITES:
    fig.add_trace(go.Scatter(x=[None], y=[None], mode="lines+markers",
                             name=NBSP * 2 + site + NBSP * 2,
                             line=dict(color=COLORS[site], width=4.4),
                             marker=dict(size=8, color=COLORS[site])))

layout = dict(
    width=W, height=H, margin=dict(l=0, r=0, t=0, b=0),
    paper_bgcolor="white", plot_bgcolor="white",
    font=dict(family=FONT, color="black"),
    legend=dict(orientation="h", x=0.5, xanchor="center", y=1 - 1498 / H, yanchor="middle",
                title=dict(text="site" + NBSP, font=dict(size=TITLE_SIZE), side="left"),
                font=dict(size=TICK_SIZE), itemwidth=40, tracegroupgap=0),
    showlegend=True,
)
for i, p in enumerate(PANELS):
    ax = "" if i == 0 else str(i + 1)
    l, r, t, b = BOXES[i]
    yt = p["yticks"]
    step = yt[1] - yt[0]
    common = dict(showline=True, linecolor="#333333", linewidth=1.5, mirror=True, zeroline=False,
                  ticks="outside", ticklen=5, tickwidth=1.5, tickcolor="#333333",
                  tickfont=dict(size=TICK_SIZE, color="#4D4D4D", family=FONT),
                  showgrid=True, gridcolor="#EBEBEB", gridwidth=2, automargin=False)
    layout["xaxis" + ax] = dict(
        common, domain=[l / W, r / W], anchor="y" + ax, type="date", range=XRANGE,
        tick0="2018-02-01", dtick="M6", tickformat="%b-%y",
        minor=dict(tick0="2017-11-01", dtick="M3", showgrid=True, gridcolor="#EBEBEB", gridwidth=1),
        title=dict(text="date", font=dict(size=TITLE_SIZE, color="black"), standoff=9))
    layout["yaxis" + ax] = dict(
        common, domain=[1 - b / H, 1 - t / H], anchor="x" + ax, range=list(YRANGES[i]),
        tick0=0, dtick=step,
        minor=dict(tick0=step / 2, dtick=step, showgrid=True, gridcolor="#EBEBEB", gridwidth=1),
        title=dict(text=p["title"], font=dict(size=TITLE_SIZE, color="black"), standoff=8))
fig.update_layout(**layout)

fig.write_html("out.html")
